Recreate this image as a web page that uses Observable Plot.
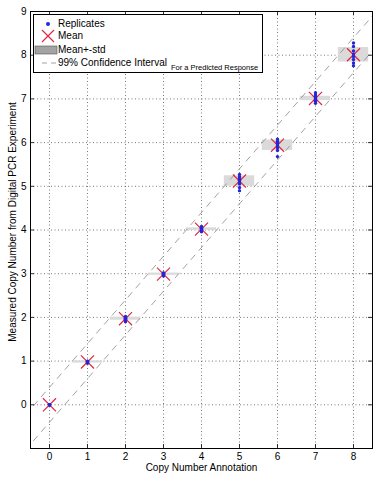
<!DOCTYPE html>
<html><head><meta charset="utf-8">
<script src="https://cdn.jsdelivr.net/npm/d3@7"></script>
<script src="https://cdn.jsdelivr.net/npm/@observablehq/plot@0.6"></script>
<style>
body{margin:0;background:#fff;font-family:"Liberation Sans",Arial,sans-serif;}
#wrap{position:relative;width:387px;height:480px;}
#legend{position:absolute;left:33px;top:14px;width:228px;height:57px;border:1px solid #000;background:#fff;font-size:10px;color:#000;}
#legend .row{position:absolute;left:0;height:12px;line-height:12px;white-space:nowrap;}
#legend .lab{position:absolute;left:24px;top:0;}
#legend svg{position:absolute;left:0;top:0;overflow:visible;}
#legend .note{position:absolute;left:137px;top:48px;font-size:7.5px;line-height:10px;white-space:nowrap;}
</style></head>
<body><div id="wrap"><div id="chart"></div><div id="legend"></div></div>
<script>
const copyNumbers = [0, 1, 2, 3, 4, 5, 6, 7, 8];
const replicateValues = [
  [0, 0, 0, 0, 0, 0, 0, 0],
  [0.95, 0.97, 0.98, 0.98, 0.99, 1.0, 0.98, 0.99],
  [1.9, 1.94, 1.96, 1.97, 1.98, 2.0, 2.02, 1.99],
  [2.95, 2.97, 2.98, 3.0, 3.0, 3.01, 3.02, 2.99],
  [3.96, 3.98, 4.0, 4.02, 4.03, 4.05, 4.08, 4.04],
  [4.9, 4.97, 5.05, 5.1, 5.14, 5.18, 5.22, 5.27],
  [5.68, 5.82, 5.88, 5.93, 5.98, 6.0, 6.03, 6.08],
  [6.9, 6.94, 6.97, 7.0, 7.02, 7.05, 7.09, 7.14],
  [7.76, 7.82, 7.9, 7.97, 8.03, 8.1, 8.2, 8.28]
];
const meanValues = [0, 0.98, 1.97, 2.99, 4.02, 5.12, 5.94, 7.01, 8.01];
const stdValues = [0, 0.025, 0.035, 0.025, 0.03, 0.12, 0.12, 0.05, 0.165];
const ciX = [-0.42, 8.5];
const ciUpperY = [-0.02, 8.9];
const ciLowerY = [-0.82, 8.1];
const xTicks = [0, 1, 2, 3, 4, 5, 6, 7, 8];
const yTicks = [0, 1, 2, 3, 4, 5, 6, 7, 8, 9];
const xLabel = "Copy Number Annotation";
const yLabel = "Measured Copy Number from Digital PCR Experiment";
const legendItems = ["Replicates", "Mean", "Mean+-std", "99% Confidence Interval"];
const legendNote = "For a Predicted Response";

const summary = copyNumbers.map((c, i) => ({cn: c, mean: meanValues[i], std: stdValues[i]}));
const reps = copyNumbers.flatMap((c, i) => replicateValues[i].map(v => ({cn: c, v})));
const ciUpper = ciX.map((x, i) => ({x, y: ciUpperY[i]}));
const ciLower = ciX.map((x, i) => ({x, y: ciLowerY[i]}));

const BLUE = "#2626d6", RED = "#e3263d";

const marks = [
  Plot.ruleX(xTicks, {stroke: "#555", strokeDasharray: "1,2.5", strokeWidth: 0.8}),
  Plot.ruleY(yTicks, {stroke: "#555", strokeDasharray: "1,2.5", strokeWidth: 0.8}),
  Plot.rect(summary, {x1: d => d.cn - 0.4, x2: d => d.cn + 0.4, y1: d => d.mean - d.std, y2: d => d.mean + d.std, fill: "#dadada"}),
  Plot.line(ciUpper, {x: "x", y: "y", stroke: "#8a8a8a", strokeWidth: 0.8, strokeDasharray: "6,6", clip: true}),
  Plot.line(ciLower, {x: "x", y: "y", stroke: "#8a8a8a", strokeWidth: 0.8, strokeDasharray: "6,6", clip: true}),
  Plot.dot(summary, {x: "cn", y: "mean", symbol: "times", r: 6, stroke: RED, strokeWidth: 1.2}),
  Plot.dot(reps, {x: "cn", y: "v", r: 1.7, fill: BLUE, stroke: "none"}),
  Plot.frame({stroke: "black", strokeWidth: 1}),
  Plot.text([xLabel], {frameAnchor: "bottom", dy: 19, text: d => d, fontSize: 10, lineAnchor: "middle", textAnchor: "middle"}),
  Plot.text([yLabel], {frameAnchor: "left", dx: -18, dy: -8, rotate: -90, text: d => d, fontSize: 10, textAnchor: "middle", lineAnchor: "middle"})
];
if (Plot.axisX) {
  marks.push(
    Plot.axisX(xTicks, {anchor: "bottom", tickSize: 0, tickPadding: 4, label: null, fontSize: 10}),
    Plot.axisY(yTicks, {anchor: "left", tickSize: 0, tickPadding: 4, label: null, fontSize: 10}),
    Plot.tickX(xTicks, {x: d => d, stroke: "black", strokeWidth: 0.8, insetTop: 433}),
    Plot.tickX(xTicks, {x: d => d, stroke: "black", strokeWidth: 0.8, insetBottom: 433}),
    Plot.tickY(yTicks, {y: d => d, stroke: "black", strokeWidth: 0.8, insetRight: 338}),
    Plot.tickY(yTicks, {y: d => d, stroke: "black", strokeWidth: 0.8, insetLeft: 338})
  );
}

const chart = Plot.plot({
  width: 387, height: 480,
  marginLeft: 30, marginRight: 15, marginTop: 11, marginBottom: 32,
  style: {fontFamily: "Liberation Sans, Arial, sans-serif", fontSize: "10px", background: "white", color: "black"},
  x: {domain: [-0.5, 8.5], ticks: xTicks, tickSize: 0, label: null, axis: Plot.axisX ? null : "bottom"},
  y: {domain: [-1, 9], ticks: yTicks, tickSize: 0, label: null, axis: Plot.axisX ? null : "left"},
  marks
});
document.getElementById("chart").appendChild(chart);

// legend
const lg = document.getElementById("legend");
const rowTops = [3, 15, 29, 42];
const swatches = [
  `<svg width="24" height="12"><circle cx="14" cy="6" r="2" fill="${BLUE}"/></svg>`,
  `<svg width="24" height="12"><path d="M8,0L20,12M20,0L8,12" stroke="${RED}" stroke-width="1.2"/></svg>`,
  `<svg width="24" height="12"><rect x="1" y="2" width="22" height="8" fill="#a3a3a3" stroke="#555" stroke-width="0.6"/></svg>`,
  `<svg width="24" height="12"><line x1="8" y1="6" x2="22" y2="6" stroke="#8a8a8a" stroke-width="0.8" stroke-dasharray="5,4"/></svg>`
];
legendItems.forEach((t, i) => {
  const r = document.createElement("div");
  r.className = "row";
  r.style.top = rowTops[i] + "px";
  r.innerHTML = swatches[i] + `<span class="lab">${t}</span>`;
  lg.appendChild(r);
});
const note = document.createElement("div");
note.className = "note";
note.textContent = legendNote;
lg.appendChild(note);
</script>
</body></html>
